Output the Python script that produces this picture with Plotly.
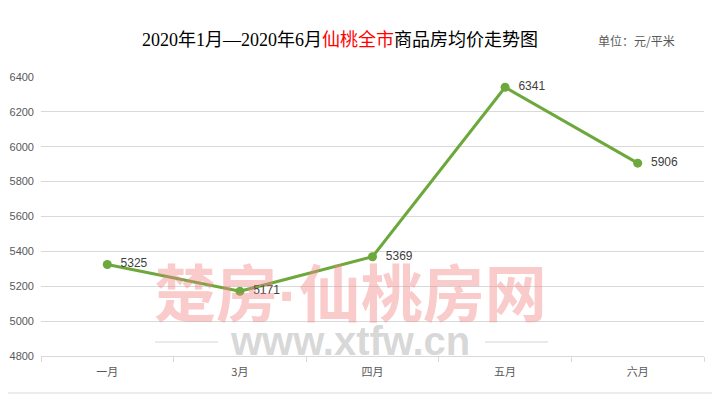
import plotly.graph_objects as go

categories = ["一月", "3月", "四月", "五月", "六月"]
prices = [5325, 5171, 5369, 6341, 5906]
y_ticks = [4800, 5000, 5200, 5400, 5600, 5800, 6000, 6200, 6400]

# the page body adds an 8px margin, so the figure is drawn 8px smaller and coords shifted by 8
OFF = 8
W, H = 720 - OFF, 396 - OFF
L, R, T, B = 41 - OFF, W - (704 - OFF), 77 - OFF, H - (356 - OFF)
pw, ph = W - L - R, H - T - B

def px(x):
    return (x - OFF - L) / pw

def py(y):
    return (H - B - (y - OFF)) / ph

fig = go.Figure()
fig.add_trace(go.Scatter(
    x=categories, y=prices, mode="lines+markers+text",
    line=dict(color="#6DA83D", width=3),
    marker=dict(color="#6DA83D", size=9),
    text=["\u00a0\u00a0" + str(v) for v in prices], textposition="middle right",
    textfont=dict(family="Liberation Sans, Arial", size=12, color="#404040"),
    cliponaxis=False, hoverinfo="skip",
))

annotations = [
    dict(xref="paper", yref="paper", x=px(340), y=py(40), xanchor="center", yanchor="middle",
         text="2020年1月—2020年6月<span style='color:#FF0000'>仙桃全市</span>商品房均价走势图",
         showarrow=False, font=dict(family="Liberation Serif, Noto Sans CJK SC", size=18, color="#000000")),
    dict(xref="paper", yref="paper", x=px(636), y=py(41), xanchor="center", yanchor="middle",
         text="单位：元/平米", showarrow=False,
         font=dict(family="Noto Sans CJK SC", size=12, color="#595959")),
    dict(xref="paper", yref="paper", x=px(350), y=py(290), xanchor="center", yanchor="middle",
         text="<b>楚房<span style='font-family:Liberation Sans'>·</span>仙桃房网</b>", showarrow=False,
         font=dict(family="Noto Sans CJK SC", size=62, color="rgba(240,130,130,0.42)")),
    dict(xref="paper", yref="paper", x=px(350), y=py(341), xanchor="center", yanchor="middle",
         text="<b>www.xtfw.cn</b>", showarrow=False,
         font=dict(family="Liberation Sans, Arial", size=40, color="rgba(160,160,160,0.42)")),
]

shapes = [
    dict(type="line", xref="paper", yref="paper", x0=px(155), x1=px(218), y0=py(342), y1=py(342),
         line=dict(color="rgba(160,160,160,0.45)", width=1)),
    dict(type="line", xref="paper", yref="paper", x0=px(485), x1=px(548), y0=py(342), y1=py(342),
         line=dict(color="rgba(160,160,160,0.45)", width=1)),
    dict(type="line", xref="paper", yref="paper", x0=px(719), x1=px(719), y0=py(393), y1=py(8),
         line=dict(color="#D9D9D9", width=1)),
    dict(type="line", xref="paper", yref="paper", x0=px(8), x1=px(719), y0=py(393), y1=py(393),
         line=dict(color="#D9D9D9", width=1)),
]

fig.update_layout(
    width=W, height=H, margin=dict(l=L, r=R, t=T, b=B, autoexpand=False),
    paper_bgcolor="white", plot_bgcolor="white", showlegend=False,
    annotations=annotations, shapes=shapes,
    xaxis=dict(type="category", showgrid=False, showline=True, linecolor="#D9D9D9", linewidth=1,
               ticks="outside", tickson="boundaries", ticklen=5, tickcolor="#D9D9D9",
               ticklabelstandoff=6, automargin=False,
               tickfont=dict(family="Noto Sans CJK SC", size=11, color="#595959"),
               range=[-0.5, 4.5], fixedrange=True),
    yaxis=dict(range=[4800, 6400], tickvals=y_ticks, showgrid=True, gridcolor="#D9D9D9", gridwidth=1,
               zeroline=False, showline=False, ticks="", ticklabelstandoff=6, automargin=False,
               tickfont=dict(family="Liberation Sans, Arial", size=11, color="#595959")),
)

fig.write_html("out.html")
